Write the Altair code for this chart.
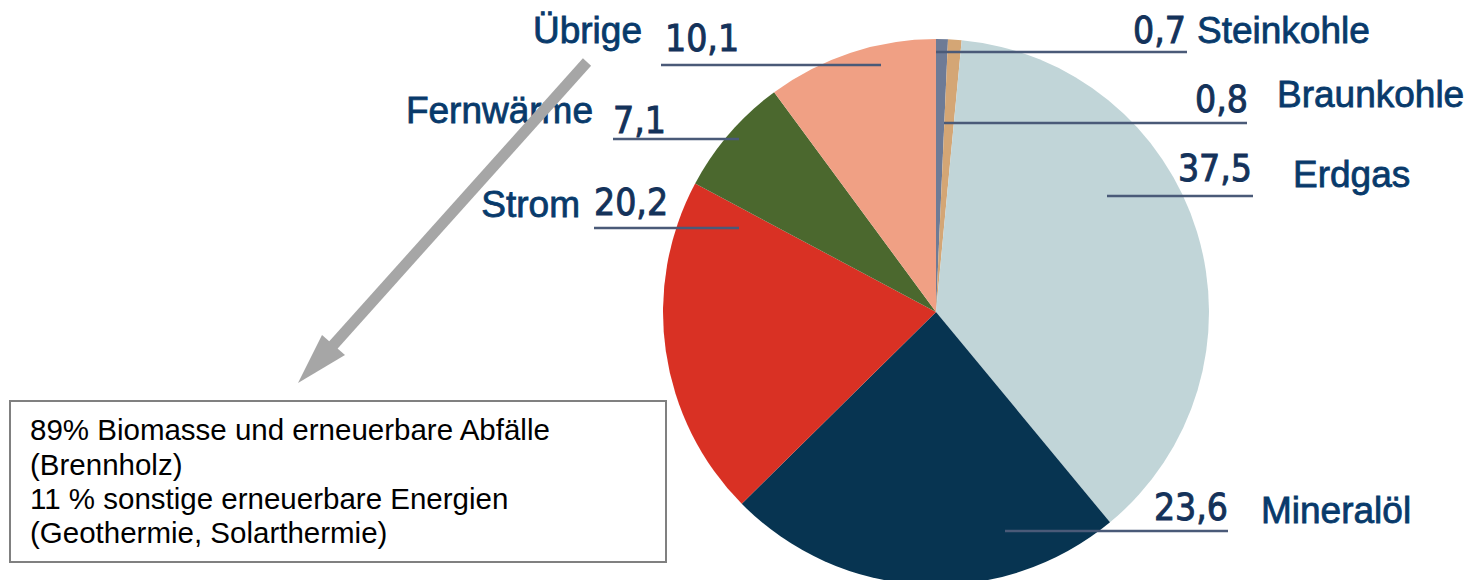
import altair as alt
import pandas as pd

# ---- data ----
categories = ["Steinkohle", "Braunkohle", "Erdgas", "Mineralöl", "Strom", "Fernwärme", "Übrige"]
values = [0.7, 0.8, 37.5, 23.6, 20.2, 7.1, 10.1]
colors = ["#6e7b96", "#d4a675", "#c1d5d8", "#073451", "#d93124", "#4b682e", "#f0a084"]
note_lines = [
    "89% Biomasse und erneuerbare Abfälle",
    "(Brennholz)",
    "11 % sonstige erneuerbare Energien",
    "(Geothermie, Solarthermie)",
]

# ---- layout (pixel positions of annotations) ----
cx, cy, R = 936, 312, 273
name_x = [1197, 1277, 1293, 1261, 580, 593, 642]
name_y = [43, 107, 187, 523, 217, 123, 43]
name_align = ["left", "left", "left", "left", "right", "right", "right"]
val_x = [1186, 1248, 1252, 1228, 594, 613, 665]
val_y = [43, 112, 181, 520, 215, 133, 51]
val_align = ["right", "right", "right", "right", "left", "left", "left"]
line_x1 = [936, 944, 1107, 1005, 594, 613, 661]
line_x2 = [1187, 1247, 1253, 1228, 739, 739, 881]
line_y = [52, 123, 196, 531, 228, 139, 65]

W, H = 1469, 580

pie_df = pd.DataFrame({
    "cat": categories,
    "val": values,
    "ord": list(range(len(categories))),
})

lab_df = pd.DataFrame({
    "cat": categories,
    "label": [f"{v:.1f}".replace(".", ",") for v in values],
    "nx": name_x, "ny": name_y, "na": name_align,
    "vx": val_x, "vy": val_y, "va": val_align,
    "x1": line_x1, "x2": line_x2, "ly": line_y,
})

pie = alt.Chart(pie_df).mark_arc(radius=R, stroke=None).encode(
    theta=alt.Theta("val:Q", stack=True),
    order=alt.Order("ord:Q"),
    color=alt.Color("cat:N", scale=alt.Scale(domain=categories, range=colors), legend=None),
    x=alt.value(cx),
    y=alt.value(cy),
)

leaders = alt.Chart(lab_df).mark_rule(color="#4a5a78", strokeWidth=2.6).encode(
    x=alt.X("x1:Q", scale=None),
    x2="x2:Q",
    y=alt.Y("ly:Q", scale=None),
)

name_color = "#083a6b"
val_color = "#14325a"


def name_layer(align):
    return alt.Chart(lab_df[lab_df.na == align]).mark_text(
        font="Liberation Sans, Arial", fontSize=37, color=name_color,
        stroke=name_color, strokeWidth=0.8, align=align, baseline="alphabetic"
    ).encode(x=alt.X("nx:Q", scale=None), y=alt.Y("ny:Q", scale=None), text="cat:N")


def val_layer(align):
    return alt.Chart(lab_df[lab_df.va == align]).mark_text(
        font="DejaVu Sans Condensed, DejaVu Sans", fontSize=37, color=val_color,
        stroke=val_color, strokeWidth=0.9, align=align, baseline="alphabetic"
    ).encode(x=alt.X("vx:Q", scale=None), y=alt.Y("vy:Q", scale=None), text="label:N")


# note box
box = alt.Chart(pd.DataFrame({"a": [0]})).mark_rect(
    fill="white", stroke="#808080", strokeWidth=2
).encode(x=alt.value(10), x2=alt.value(666), y=alt.value(401), y2=alt.value(562))

note_df = pd.DataFrame({"t": note_lines, "y": [440, 475, 509, 543]})
note = alt.Chart(note_df).mark_text(
    font="Liberation Sans, Arial", fontSize=29.5, color="black", align="left", baseline="alphabetic"
).encode(x=alt.value(30), y=alt.Y("y:Q", scale=None), text="t:N")

# arrow
shaft = alt.Chart(pd.DataFrame({"a": [0]})).mark_rule(
    color="#a6a6a6", strokeWidth=11, strokeCap="butt"
).encode(x=alt.value(587), y=alt.value(62), x2=alt.value(328), y2=alt.value(351))

head = alt.Chart(pd.DataFrame({"a": [0]})).mark_point(
    shape="M -0.733 0.933 L 0.067 -0.667 L 0.833 0 Z",
    size=3600, filled=True, color="#a6a6a6", opacity=1, strokeWidth=0,
).encode(x=alt.value(320), y=alt.value(355))

chart = alt.layer(
    pie, leaders, name_layer("left"), name_layer("right"),
    val_layer("right"), val_layer("left"), box, note, shaft, head
).properties(
    width=W, height=H, padding=0, autosize="none"
).configure_view(stroke=None)

chart.save("out.html", embed_options={"renderer": "svg", "actions": False})
